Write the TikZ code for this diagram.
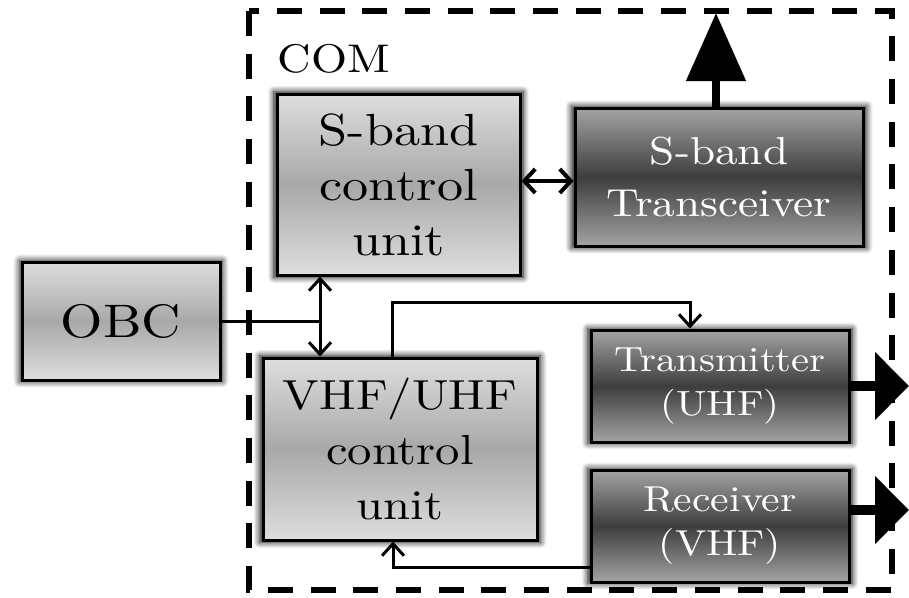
\documentclass[tikz,border=0pt]{standalone}
\usepackage{fontspec}
\setmainfont{lmroman10-regular.otf}[FakeStretch=1.16]
\usetikzlibrary{arrows.meta,shadows.blur}
\begin{document}
\begin{tikzpicture}[x=1pt,y=-1pt,
  glow/.style={blur shadow={shadow xshift=0pt,shadow yshift=0pt,shadow blur radius=6pt,shadow blur steps=8,shadow opacity=95,shadow scale=1.025}},
  lightbox/.style={draw=black,line width=3pt,glow,top color=black!13,bottom color=black!13,middle color=black!34,align=center,inner sep=0pt,text=black},
  darkbox/.style={draw=black,line width=3pt,glow,top color=black!36,bottom color=black!36,middle color=black!76,align=center,inner sep=0pt,text=white},
  thinline/.style={line width=3pt},
  barb/.style={-{Straight Barb[length=12pt,width=22pt,line width=3pt]}},
  dbarb/.style={{Straight Barb[length=12pt,width=22pt,line width=3pt]}-{Straight Barb[length=12pt,width=22pt,line width=3pt]}},
  bigarrow/.style={-{Triangle[length=34pt,width=66pt]}},
  comframe/.style={line width=6pt,dash pattern=on 25pt off 17.7pt}
]
\useasboundingbox (0,0) rectangle (909,597);

% COM frame
\draw[comframe] (249,11) rectangle (892,590);
\node[anchor=base west,font=\fontsize{40}{50}\selectfont] (com) at (274,72) {COM};

% boxes
\node[lightbox,minimum width=198pt,minimum height=118pt,font=\fontsize{47}{58}\selectfont] (obc) at (121,321) {OBC};
\node[lightbox,minimum width=243pt,minimum height=181pt,font=\fontsize{45}{55}\selectfont] (scu) at (398.5,184.5) {S-band\\control\\unit};
\node[darkbox,minimum width=288pt,minimum height=138pt,font=\fontsize{39}{52}\selectfont] (str) at (719,177) {S-band\\Transceiver};
\node[lightbox,minimum width=274pt,minimum height=182pt,font=\fontsize{42}{55}\selectfont] (vcu) at (400,449) {VHF/UHF\\control\\unit};
\node[darkbox,minimum width=258pt,minimum height=112pt,font=\fontsize{35}{44}\selectfont] (tx) at (720,386) {Transmitter\\(UHF)};
\node[darkbox,minimum width=258pt,minimum height=112pt,font=\fontsize{36}{44}\selectfont] (rx) at (720,526) {Receiver\\(VHF)};

% connectors
\coordinate (j) at (320,321);
\draw[thinline] (obc.east) -- (j);
\draw[thinline,dbarb] (j |- scu.south) -- (j |- vcu.north);
\draw[line width=4.5pt,{Straight Barb[length=11pt,width=24pt,line width=4pt]}-{Straight Barb[length=11pt,width=24pt,line width=4pt]}] (scu.east |- 0,181) -- (str.west |- 0,181);
\coordinate (ant) at (716,13);
\draw[line width=8pt,-{Triangle[length=68pt,width=58pt]}] (ant |- str.north) -- (ant);
\draw[thinline,barb] (392,0 |- vcu.north) |- (690,302) -- (690,0 |- tx.north);
\draw[thinline,barb] (rx.west |- 0,567) -| (393,0 |- vcu.south);
\draw[line width=10pt,bigarrow] (tx.east) -- (tx.east -| 909,0);
\draw[line width=10pt,bigarrow] (rx.east |- 0,510) -- (909,510);
\end{tikzpicture}
\end{document}
